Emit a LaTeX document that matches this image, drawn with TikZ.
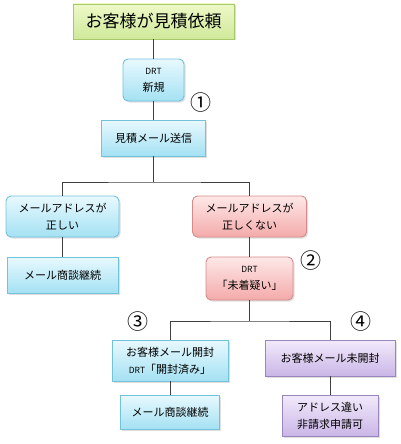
\documentclass[tikz,border=0pt]{standalone}
\usepackage{fontspec}
\setmainfont{Noto Sans CJK JP}
\usetikzlibrary{shadows}
\definecolor{bluetop}{HTML}{E8F9FE}\definecolor{bluebot}{HTML}{A4E1F3}\definecolor{blueline}{HTML}{72C2DA}
\definecolor{redtop}{HTML}{FEE8E8}\definecolor{redbot}{HTML}{F4AAAA}\definecolor{redline}{HTML}{D68A8A}
\definecolor{purtop}{HTML}{F2EAFB}\definecolor{purbot}{HTML}{CAB6E7}\definecolor{purline}{HTML}{9A86BF}
\definecolor{grntop}{HTML}{EEF9C8}\definecolor{grnbot}{HTML}{CFE99A}\definecolor{grnline}{HTML}{A8C86C}
\tikzset{box/.style={draw,line width=0.9pt,align=center,inner sep=0pt,
  font=\fontsize{11}{17}\selectfont,
  drop shadow={opacity=0.25,shadow xshift=1.5pt,shadow yshift=-1.5pt}},
  bluebox/.style={box,draw=blueline,top color=bluetop,bottom color=bluebot},
  redbox/.style={box,draw=redline,top color=redtop,bottom color=redbot},
  purbox/.style={box,draw=purline,top color=purtop,bottom color=purbot},
  grnbox/.style={box,draw=grnline,top color=grntop,bottom color=grnbot},
  round/.style={rounded corners=5pt},
  link/.style={draw=black!75,line width=1pt},
  num/.style={font=\fontsize{21}{21}\selectfont}}
\newcommand{\drt}{{\fontsize{8.5}{8.5}\selectfont DRT}}
\begin{document}
\begin{tikzpicture}[x=1pt,y=-1pt]
\useasboundingbox (0,0) rectangle (400,444);
\node[grnbox,minimum width=161,minimum height=35,font=\fontsize{17}{17}\selectfont] (req) at(153.5,21.5){お客様が見積依頼};
\node[bluebox,round,minimum width=61,minimum height=42] (drtnew) at(153.5,80){\drt\\新規};
\node[bluebox,minimum width=104,minimum height=36] (send) at(153.5,138){見積メール送信};
\node[bluebox,round,minimum width=113,minimum height=41] (okaddr) at(62.5,216.5){メールアドレスが\\正しい};
\node[redbox,round,minimum width=114,minimum height=41] (ngaddr) at(249.5,216.5){メールアドレスが\\正しくない};
\node[bluebox,minimum width=111,minimum height=36] (okcont) at(62.5,275){メール商談継続};
\node[redbox,round,minimum width=87,minimum height=43] (drtlost) at(249.5,278.5){\drt\\「未着疑い」};
\node[bluebox,minimum width=116,minimum height=41] (opened) at(170,360.5){お客様メール開封\\\drt「開封済み」};
\node[purbox,minimum width=130,minimum height=36] (unopened) at(330,358){お客様メール未開封};
\node[bluebox,minimum width=99,minimum height=34] (opcont) at(170,412){メール商談継続};
\node[purbox,minimum width=96,minimum height=41] (badaddr) at(330,415.5){アドレス違い\\非請求申請可};
% circled numbers
\node[num] (n1) at(201,103){①};\node[num] (n2) at(311,261){②};
\node[num] (n3) at(138,322){③};\node[num] (n4) at(361,322){④};
% links
\coordinate (j1) at(153.5,182);\coordinate (j2) at(249.5,321);
\draw[link] (req)--(drtnew);\draw[link] (drtnew)--(send);
\draw[link] (send)--(j1);\draw[link] (okaddr.north)|-(j1)-|(ngaddr.north);
\draw[link] (okaddr)--(okcont);\draw[link] (ngaddr)--(drtlost);
\draw[link] (drtlost)--(j2);\draw[link] (opened.north)|-(j2)-|(unopened.north);
\draw[link] (opened)--(opcont);\draw[link] (unopened)--(badaddr);
\end{tikzpicture}
\end{document}
